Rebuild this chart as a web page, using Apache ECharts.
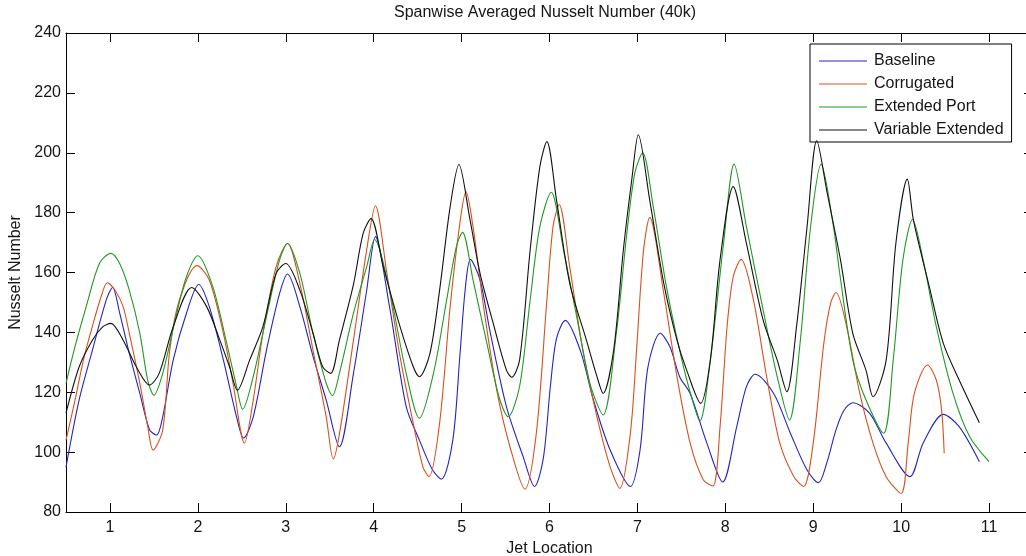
<!DOCTYPE html>
<html>
<head>
<meta charset="utf-8">
<script src="https://cdn.jsdelivr.net/npm/echarts@6/dist/echarts.min.js"></script>
<style>
  html, body { margin: 0; padding: 0; background: #ffffff; }
  #chart { width: 1026px; height: 556px; }
</style>
</head>
<body>
<div id="chart"></div>
<script>
// Spanwise averaged Nusselt number along the jet row, four geometries, Re = 40k
const xTicks = [1, 2, 3, 4, 5, 6, 7, 8, 9, 10, 11];
const seriesNames = ['Baseline', 'Corrugated', 'Extended Port', 'Variable Extended'];
const seriesColors = ['#2424c0', '#d9501e', '#1f9a22', '#111111'];

// [jet location, Nusselt number]
const baseline = [
  [0.5,95],[0.65,117.5],[0.8,134],[0.96,151],[1.03,155],[1.11,146.5],[1.22,133],[1.34,119.6],
  [1.45,107.5],[1.53,105.7],[1.6,111.8],[1.72,130.8],[1.87,146.4],[2.01,156],[2.13,148.6],
  [2.29,130.8],[2.44,111.8],[2.52,104.7],[2.63,111.8],[2.78,134],[2.93,153],[3.02,159.5],
  [3.16,148.6],[3.31,132],[3.46,117.4],[3.61,101.8],[3.77,126.3],[3.92,154],[4.02,172],
  [4.18,148.6],[4.37,115.2],[4.52,104],[4.67,94],[4.77,91],[4.9,104],[4.98,132],[5.04,154],
  [5.1,164.4],[5.21,157.5],[5.32,140.8],[5.51,115.2],[5.7,98.5],[5.83,88.5],[5.93,98],
  [6.01,122],[6.08,138],[6.18,144],[6.35,134],[6.5,117.4],[6.69,100.7],[6.92,88.5],[7.03,100.7],
  [7.12,128.5],[7.26,139.7],[7.37,135.2],[7.48,125.2],[7.6,119.6],[7.79,103],[7.97,90],
  [8.13,108.5],[8.24,121.9],[8.34,126],[8.55,119.6],[8.74,106.3],[8.93,94],[9.06,89.8],
  [9.15,96],[9.26,107.5],[9.35,114],[9.45,116.5],[9.64,113],[9.83,103],[10.1,91.8],[10.25,103],
  [10.48,112.6],[10.66,108.5],[10.89,96.8]
];

const corrugated = [
  [0.5,104],[0.6,117],[0.7,131],[0.8,142],[0.9,152],[0.97,156.6],[1.06,154],[1.15,148.6],
  [1.22,139.7],[1.34,123],[1.43,108.5],[1.49,100.7],[1.6,107.4],[1.68,134],[1.79,150.8],
  [1.99,162.3],[2.13,157.5],[2.29,139.7],[2.4,123],[2.53,103],[2.63,117.4],[2.74,139.7],
  [2.89,161.9],[3.02,169.7],[3.16,156.4],[3.31,134],[3.46,111.8],[3.54,97.7],[3.61,106],
  [3.77,137.4],[3.92,167.5],[4.02,182.3],[4.15,159.7],[4.3,131.9],[4.45,109.6],[4.56,95.1],
  [4.63,91.8],[4.75,109.7],[4.87,148.6],[4.98,176.4],[5.05,187],[5.13,175.3],[5.25,148.6],
  [5.4,120.7],[5.55,101.8],[5.72,87.6],[5.85,106.3],[5.97,150.8],[6.04,175.3],[6.11,182.7],
  [6.23,161.9],[6.38,134],[6.54,111.8],[6.69,95.1],[6.8,87.9],[6.92,106.3],[6.99,134],
  [7.07,167.5],[7.14,178.4],[7.3,153],[7.45,125.2],[7.6,103],[7.75,90.7],[7.86,88.7],
  [7.94,108.5],[8.02,141.9],[8.09,158.6],[8.18,164.4],[8.32,150.8],[8.47,125.2],[8.62,103],
  [8.78,91.8],[8.89,88.5],[9.0,103],[9.12,136.3],[9.2,150],[9.26,153.3],[9.38,141.9],
  [9.53,119.6],[9.68,103],[9.83,91.8],[10.0,86.2],[10.08,103],[10.15,119.6],[10.3,129.1],
  [10.4,124.1],[10.46,114.1],[10.49,99.6]
];

const extendedPort = [
  [0.5,123],[0.6,135],[0.73,148.6],[0.88,163],[1.01,166.4],[1.11,163],[1.22,154.1],
  [1.34,139.7],[1.43,124],[1.5,119],[1.6,126.3],[1.75,145.2],[1.87,158.6],[2.0,165.6],
  [2.17,155.3],[2.32,137.4],[2.44,121.9],[2.51,114.3],[2.63,125.2],[2.78,145.2],[2.93,164.2],
  [3.02,169.7],[3.16,159.7],[3.31,139.7],[3.46,123],[3.53,118.9],[3.61,126.3],[3.77,146.4],
  [3.92,161.9],[4.01,171],[4.18,154.1],[4.37,126.3],[4.52,111.3],[4.68,126.3],[4.83,150.8],
  [4.94,168.6],[5.01,173.4],[5.13,157.5],[5.28,137.4],[5.43,118],[5.53,111.8],[5.66,122],
  [5.78,150.8],[5.89,175.3],[6.02,186.8],[6.16,167.5],[6.31,145.2],[6.46,123],[6.61,112.4],
  [6.76,139.7],[6.88,173.1],[6.97,193.1],[7.06,200],[7.18,182],[7.33,155.3],[7.48,134.1],
  [7.6,120],[7.71,110.4],[7.83,130.8],[7.98,169.7],[8.1,196.2],[8.24,175.3],[8.43,147.5],
  [8.59,125.2],[8.73,110.7],[8.85,136.3],[8.97,175.3],[9.09,196.2],[9.23,175.3],[9.3,160],
  [9.45,130.8],[9.6,117.4],[9.8,106.3],[9.91,130.8],[10.02,164.2],[10.13,177.7],[10.25,164.2],
  [10.4,141.9],[10.59,119.6],[10.78,105.1],[11.0,96.8]
];

const variableExtended = [
  [0.5,113],[0.65,128.5],[0.8,137.4],[0.92,141.9],[1.01,143],[1.15,137.4],[1.3,128.5],
  [1.45,122.4],[1.56,126.3],[1.72,141.9],[1.93,155],[2.1,148.6],[2.25,137.4],[2.36,128.5],
  [2.45,120.7],[2.59,130.8],[2.74,141.9],[2.89,159.7],[3.0,163],[3.16,154.1],[3.31,139.7],
  [3.42,128.5],[3.51,126.3],[3.61,137.4],[3.77,156],[3.88,173.1],[3.97,178],[4.11,161.9],
  [4.3,141.9],[4.45,128.5],[4.52,125.2],[4.64,133],[4.75,154.1],[4.87,182],[4.97,196.1],
  [5.09,178.6],[5.21,159.7],[5.36,143],[5.51,127.4],[5.57,125],[5.66,130.8],[5.78,167.5],
  [5.89,195.3],[5.97,203.7],[6.08,184.2],[6.23,156.4],[6.42,137.4],[6.54,125.2],[6.61,119.6],
  [6.73,134.1],[6.84,167.5],[6.94,192],[7.01,206],[7.14,184.2],[7.3,156.4],[7.45,137.4],
  [7.56,127.4],[7.72,116.3],[7.83,130.8],[7.94,164.2],[8.09,188.7],[8.24,169.7],[8.43,144.1],
  [8.59,130.8],[8.7,120.2],[8.81,141.9],[8.93,175.3],[9.04,204],[9.16,186.4],[9.31,164.2],
  [9.45,139.7],[9.6,127.4],[9.68,118.5],[9.83,130.8],[9.94,169.7],[10.07,191.2],[10.14,177.5],
  [10.32,155.3],[10.48,136.3],[10.66,124.1],[10.89,109.8]
];

const seriesData = [baseline, corrugated, extendedPort, variableExtended];

const FONT = '"Liberation Sans", Arial, Helvetica, sans-serif';
const FONT_SIZE = 16;
const TEXT = '#151515';
const AXIS_LINE = { show: true, onZero: false, lineStyle: { color: '#000', width: 1 } };
// thin horizontal bar used as the legend key (a plain line sample)
const LEGEND_KEY = 'path://M0,0H48V1H0Z';

const chart = echarts.init(document.getElementById('chart'), null, { renderer: 'canvas' });

chart.setOption({
  animation: false,
  backgroundColor: '#ffffff',
  textStyle: { fontFamily: FONT },
  title: {
    text: 'Spanwise Averaged Nusselt Number (40k)',
    left: 545,
    textAlign: 'center',
    top: 5,
    padding: 0,
    textStyle: { fontSize: FONT_SIZE, fontWeight: 'normal', color: TEXT, fontFamily: FONT }
  },
  // fixed plot box; the right edge of the frame sits just past the canvas edge
  grid: { left: 66, top: 33, width: 967, height: 479, containLabel: false, outerBoundsMode: 'none' },
  legend: {
    data: seriesNames.map((n) => ({ name: n, icon: LEGEND_KEY })),
    orient: 'vertical',
    left: 810,
    top: 44,
    padding: [9, 8, 4, 9],
    itemWidth: 48,
    itemHeight: 16,
    itemGap: 7,
    borderColor: '#000',
    borderWidth: 1,
    borderRadius: 0,
    backgroundColor: '#ffffff',
    selectedMode: false,
    textStyle: { fontSize: FONT_SIZE, color: TEXT, fontFamily: FONT, padding: [0, 0, 0, 2] }
  },
  xAxis: [
    {
      type: 'value', position: 'bottom', min: 0.5, max: 11.5,
      axisLine: AXIS_LINE,
      axisTick: { show: true, inside: true, length: 9, customValues: xTicks, lineStyle: { color: '#000' } },
      axisLabel: { customValues: xTicks, margin: 8, fontSize: FONT_SIZE, color: TEXT, fontFamily: FONT },
      splitLine: { show: false },
      name: 'Jet Location', nameLocation: 'middle', nameGap: 28,
      nameTextStyle: { fontSize: FONT_SIZE, color: TEXT, fontFamily: FONT }
    },
    {
      type: 'value', position: 'top', min: 0.5, max: 11.5,
      axisLine: AXIS_LINE,
      axisTick: { show: true, inside: true, length: 9, customValues: xTicks, lineStyle: { color: '#000' } },
      axisLabel: { show: false },
      splitLine: { show: false }
    }
  ],
  yAxis: [
    {
      type: 'value', position: 'left', min: 80, max: 240, interval: 20,
      axisLine: AXIS_LINE,
      axisTick: { show: true, inside: true, length: 9, lineStyle: { color: '#000' } },
      axisLabel: { margin: 5, fontSize: FONT_SIZE, color: TEXT, fontFamily: FONT },
      splitLine: { show: false },
      name: 'Nusselt Number', nameLocation: 'middle', nameGap: 36, nameRotate: 90,
      nameTextStyle: { fontSize: FONT_SIZE, color: TEXT, fontFamily: FONT }
    },
    {
      type: 'value', position: 'right', min: 80, max: 240, interval: 20,
      axisLine: AXIS_LINE,
      axisTick: { show: true, inside: true, length: 9, lineStyle: { color: '#000' } },
      axisLabel: { show: false },
      splitLine: { show: false }
    }
  ],
  series: seriesData.map((data, i) => ({
    name: seriesNames[i],
    type: 'line',
    xAxisIndex: 0,
    yAxisIndex: 0,
    data: data,
    symbol: 'none',
    showSymbol: false,
    smooth: 0.3,
    clip: true,
    z: 2 + i,
    itemStyle: { color: seriesColors[i] },
    lineStyle: { color: seriesColors[i], width: 1.1 }
  }))
});
</script>
</body>
</html>
